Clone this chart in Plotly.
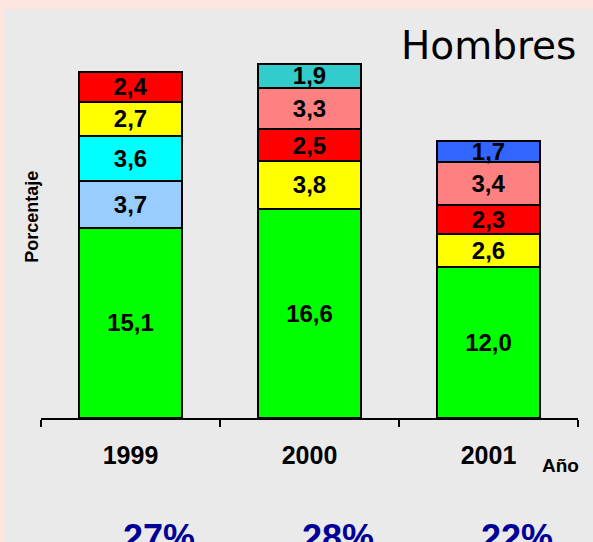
import plotly.graph_objects as go

# years on the x axis
years = ["1999", "2000", "2001"]

# stacked segments, bottom to top (None = segment not present that year)
seg_green = [15.1, 16.6, 12.0]
seg_lightblue = [3.7, None, None]
seg_cyan = [3.6, None, None]
seg_yellow = [2.7, 3.8, 2.6]
seg_red = [2.4, 2.5, 2.3]
seg_salmon = [None, 3.3, 3.4]
seg_teal = [None, 1.9, None]
seg_blue = [None, None, 1.7]

# totals printed below the chart
total_pct = ["27%", "28%", "22%"]

FONT = "Liberation Sans, Arial, sans-serif"

series = [
    (seg_green, "#00FF00"),
    (seg_lightblue, "#99CCFF"),
    (seg_cyan, "#00FFFF"),
    (seg_yellow, "#FFFF00"),
    (seg_red, "#FF0000"),
    (seg_salmon, "#FF8080"),
    (seg_teal, "#33CCCC"),
    (seg_blue, "#3366FF"),
]

fig = go.Figure()

for values, color in series:
    fig.add_trace(
        go.Bar(
            x=years,
            y=values,
            marker={'color': color, 'line': {'color': 'black', 'width': 2}},
            texttemplate='%{y:.1f}',
            textposition='inside',
            insidetextanchor='middle',
            textfont={'family': FONT, 'size': 24, 'color': 'black',
                      'weight': 'bold'},
            width=0.58,
            showlegend=False,
            hoverinfo='skip',
        )
    )

# gray panel inside the pink frame
fig.add_shape(
    type='rect', xref='paper', yref='paper',
    x0=-0.067, x1=1.05, y0=-0.4, y1=1.082,
    fillcolor='#EAEAEA', line={'width': 0}, layer='below'
)

fig.add_annotation(
    text='Hombres', xref='paper', yref='paper', x=1.0, y=0.985,
    xanchor='right', yanchor='middle', showarrow=False,
    font={'family': 'DejaVu Sans', 'size': 39, 'color': 'black'}
)

fig.add_annotation(
    text='<b>Porcentaje</b>', xref='paper', yref='paper', x=-0.017, y=0.532,
    textangle=-90, xanchor='center', yanchor='middle', showarrow=False,
    font={'family': FONT, 'size': 18, 'color': 'black'}
)

fig.add_annotation(
    text='<b>Año</b>', xref='paper', yref='paper', x=0.968, y=-0.126,
    xanchor='center', yanchor='middle', showarrow=False,
    font={'family': FONT, 'size': 19, 'color': 'black'}
)

for i, pct in enumerate(total_pct):
    fig.add_annotation(
        text=f'<b>{pct}</b>', xref='x', yref='paper', x=i + 0.16, y=-0.317,
        xanchor='center', yanchor='middle', showarrow=False,
        font={'family': FONT, 'size': 36, 'color': '#000099'}
    )

fig.update_xaxes(
    type='category',
    range=[-0.5, 2.5],
    showline=True, linecolor='black', linewidth=2,
    ticks='outside', tickson='boundaries', ticklen=7, tickwidth=2,
    tickcolor='black',
    tickfont={'family': FONT, 'size': 25, 'color': 'black', 'weight': 'bold'},
    ticklabelstandoff=14,
    showgrid=False, zeroline=False,
)
fig.update_yaxes(visible=False, range=[0, 30])

fig.update_layout(
    barmode='stack',
    separators=',.',
    width=593,
    height=542,
    margin={'l': 41, 'r': 15, 't': 40, 'b': 124},
    paper_bgcolor='#FDE6E0',
    plot_bgcolor='rgba(0,0,0,0)',
    uniformtext={'minsize': 24, 'mode': 'show'},
    font={'family': FONT},
)

# drop the default page margin so the figure sits at the window corner
fig.write_html(
    "out.html",
    config={'displayModeBar': False},
    post_script="document.body.style.margin='0';"
                "document.body.style.overflow='hidden';"
)
